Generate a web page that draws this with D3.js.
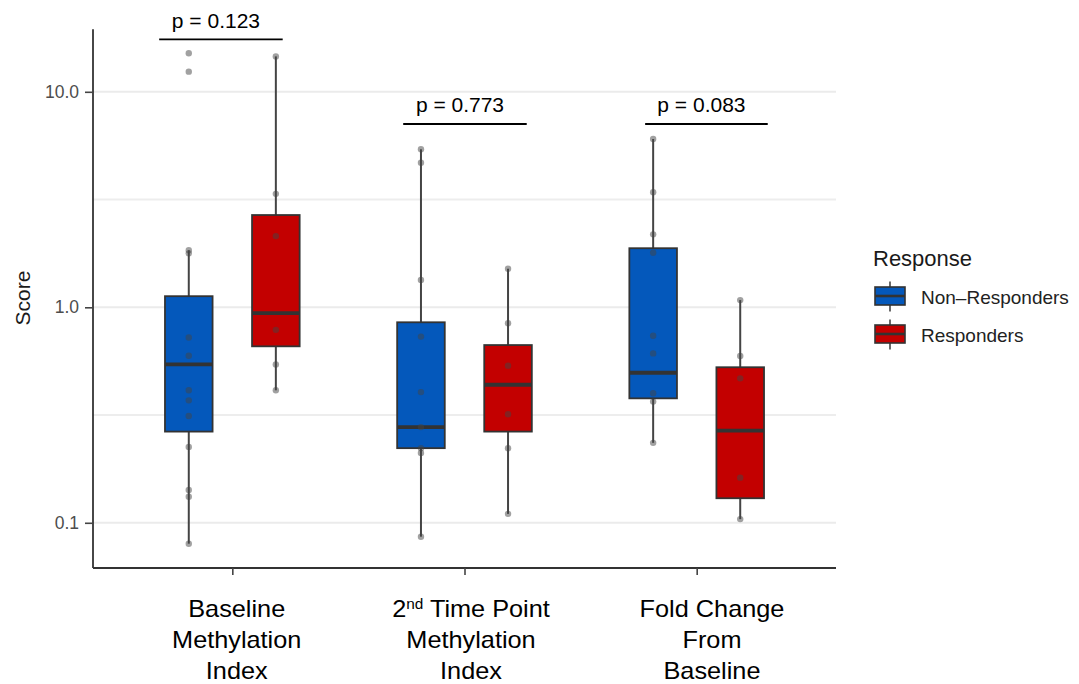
<!DOCTYPE html>
<html>
<head>
<meta charset="utf-8">
<script src="https://cdn.jsdelivr.net/npm/d3@7"></script>
<style>
  html, body { margin: 0; padding: 0; background: #ffffff; }
  svg { display: block; font-family: "Liberation Sans", Arial, Helvetica, sans-serif; }
</style>
</head>
<body>
<svg id="chart" width="1079" height="684"></svg>
<script>
// ---------------- DATA ----------------
const categories = ["Baseline Methylation Index", "2nd Time Point Methylation Index", "Fold Change From Baseline"];
const groups = ["Non-Responders", "Responders"];

// box statistics
const nonRespLowWhisker  = [0.080, 0.0862, 0.235];
const nonRespQ1          = [0.265, 0.222, 0.378];
const nonRespMedian      = [0.543, 0.278, 0.497];
const nonRespQ3          = [1.126, 0.852, 1.88];
const nonRespHighWhisker = [1.84, 5.41, 6.04];

const respLowWhisker  = [0.412, 0.110, 0.104];
const respQ1          = [0.659, 0.265, 0.130];
const respMedian      = [0.94, 0.437, 0.268];
const respQ3          = [2.68, 0.668, 0.527];
const respHighWhisker = [14.6, 1.51, 1.08];

// individual points
const nonRespPoints = [
  [15.1, 12.4, 1.84, 1.78, 0.724, 0.596, 0.412, 0.37, 0.313, 0.225, 0.142, 0.132, 0.080],
  [5.41, 4.69, 1.34, 0.731, 0.404, 0.278, 0.222, 0.211, 0.0862],
  [6.04, 3.42, 2.18, 1.79, 0.738, 0.611, 0.399, 0.365, 0.235]
];
const respPoints = [
  [14.6, 3.36, 2.14, 0.786, 0.543, 0.412],
  [1.51, 0.843, 0.536, 0.319, 0.222, 0.110],
  [1.08, 0.594, 0.468, 0.162, 0.104]
];

// significance annotations
const pLabels = ["p = 0.123", "p = 0.773", "p = 0.083"];
const bracketY = [17.5, 7.09, 7.09];
const bracketLeft = [-0.315, -0.264, -0.222];   // in category-step units
const bracketRight = [0.217, 0.268, 0.306];

const yMajorTicks = [0.1, 1, 10];
const yMinorTicks = [Math.pow(10, -0.5), Math.pow(10, 0.5)];
const yTickLabels = ["0.1", "1.0", "10.0"];

// ---------------- STYLE / LAYOUT ----------------
const colors = { "Non-Responders": "#0458bb", "Responders": "#c30000" };
const panel = { left: 93, right: 836, top: 29.3, bottom: 568 };
const dodge = 0.1875, boxW = 0.205;
const labelShift = [4.4, 6.5, 15.3];

const svg = d3.select("#chart");

const x = d3.scalePoint().domain(categories).range([panel.left, panel.right]).padding(0.6);
const step = x.step();
const y = d3.scaleLog().domain([0.06169, 19.5]).range([panel.bottom, panel.top]);

// gridlines
const grid = svg.append("g");
grid.selectAll("line.major").data(yMajorTicks).join("line")
  .attr("x1", panel.left).attr("x2", panel.right)
  .attr("y1", d => y(d)).attr("y2", d => y(d))
  .attr("stroke", "#ebebeb").attr("stroke-width", 2);
grid.selectAll("line.minor").data(yMinorTicks).join("line")
  .attr("x1", panel.left).attr("x2", panel.right)
  .attr("y1", d => y(d)).attr("y2", d => y(d))
  .attr("stroke", "#ededed").attr("stroke-width", 2);

// build box records
const boxes = [];
categories.forEach((c, i) => {
  boxes.push({ cat: c, grp: "Non-Responders", off: -dodge, lo: nonRespLowWhisker[i], q1: nonRespQ1[i], med: nonRespMedian[i], q3: nonRespQ3[i], hi: nonRespHighWhisker[i], pts: nonRespPoints[i] });
  boxes.push({ cat: c, grp: "Responders", off: dodge, lo: respLowWhisker[i], q1: respQ1[i], med: respMedian[i], q3: respQ3[i], hi: respHighWhisker[i], pts: respPoints[i] });
});
const cx = d => x(d.cat) + d.off * step;

const bg = svg.append("g");
// whiskers
bg.selectAll("line.wu").data(boxes).join("line")
  .attr("x1", cx).attr("x2", cx)
  .attr("y1", d => y(d.q3)).attr("y2", d => y(d.hi))
  .attr("stroke", "#444").attr("stroke-width", 2);
bg.selectAll("line.wl").data(boxes).join("line")
  .attr("x1", cx).attr("x2", cx)
  .attr("y1", d => y(d.q1)).attr("y2", d => y(d.lo))
  .attr("stroke", "#444").attr("stroke-width", 2);
// boxes
bg.selectAll("rect.box").data(boxes).join("rect")
  .attr("x", d => cx(d) - boxW * step / 2)
  .attr("width", boxW * step)
  .attr("y", d => y(d.q3))
  .attr("height", d => y(d.q1) - y(d.q3))
  .attr("fill", d => colors[d.grp])
  .attr("stroke", "#333").attr("stroke-width", 1.8);
// medians
bg.selectAll("line.med").data(boxes).join("line")
  .attr("x1", d => cx(d) - boxW * step / 2).attr("x2", d => cx(d) + boxW * step / 2)
  .attr("y1", d => y(d.med)).attr("y2", d => y(d.med))
  .attr("stroke", "#333").attr("stroke-width", 3.8);
// points
const pts = [];
boxes.forEach(b => b.pts.forEach(v => pts.push({ b, v })));
bg.selectAll("circle.pt").data(pts).join("circle")
  .attr("cx", d => cx(d.b)).attr("cy", d => y(d.v)).attr("r", 3.2)
  .attr("fill", "#444").attr("fill-opacity", 0.5);

// axes
const axG = svg.append("g");
axG.append("line").attr("x1", panel.left).attr("x2", panel.left).attr("y1", panel.top).attr("y2", panel.bottom)
  .attr("stroke", "#333").attr("stroke-width", 1.8);
axG.append("line").attr("x1", panel.left).attr("x2", panel.right).attr("y1", panel.bottom).attr("y2", panel.bottom)
  .attr("stroke", "#333").attr("stroke-width", 1.8);

const yAxis = svg.append("g").attr("transform", `translate(${panel.left},0)`)
  .call(d3.axisLeft(y).tickValues(yMajorTicks).tickSize(8).tickPadding(6)
    .tickFormat((d, i) => yTickLabels[i]));
yAxis.select(".domain").remove();
yAxis.selectAll(".tick line").attr("stroke", "#444").attr("stroke-width", 1.6);
yAxis.selectAll(".tick text").attr("fill", "#4d4d4d").style("font-size", "17.5px")
  .style("font-family", "'Liberation Sans', Arial, sans-serif");

const xAxis = svg.append("g").attr("transform", `translate(0,${panel.bottom})`)
  .call(d3.axisBottom(x).tickSize(7).tickFormat(""));
xAxis.select(".domain").remove();
xAxis.selectAll(".tick line").attr("stroke", "#444").attr("stroke-width", 1.6);

// x labels (multi-line)
const xLabelLines = [
  [["Baseline"], ["Methylation"], ["Index"]],
  [["2", "nd", " Time Point"], ["Methylation"], ["Index"]],
  [["Fold Change"], ["From"], ["Baseline"]]
];
const lineBase = [617, 648, 679];
categories.forEach((c, i) => {
  const g = svg.append("g").attr("transform", `translate(${x(c) + labelShift[i]},0) scale(1.1,1)`);
  xLabelLines[i].forEach((parts, j) => {
    const t = g.append("text").attr("x", 0).attr("y", lineBase[j])
      .attr("text-anchor", "middle").attr("fill", "#000").style("font-size", "23px");
    if (parts.length === 3) {
      t.append("tspan").text(parts[0]);
      t.append("tspan").text(parts[1]).attr("dy", -8).style("font-size", "14px");
      t.append("tspan").text(parts[2]).attr("dy", 8);
    } else {
      t.text(parts[0]);
    }
  });
});

// y title
svg.append("text").attr("transform", "translate(30,298) rotate(-90)")
  .attr("text-anchor", "middle").attr("fill", "#1a1a1a").style("font-size", "21px").text("Score");

// significance brackets
const br = svg.append("g");
categories.forEach((c, i) => {
  const x1 = x(c) + bracketLeft[i] * step, x2 = x(c) + bracketRight[i] * step;
  const yy = y(bracketY[i]);
  br.append("line").attr("x1", x1).attr("x2", x2).attr("y1", yy).attr("y2", yy)
    .attr("stroke", "#000").attr("stroke-width", 1.8);
  br.append("text").attr("x", (x1 + x2) / 2 - 5).attr("y", yy - 11.5)
    .attr("text-anchor", "middle").attr("fill", "#000").style("font-size", "21px").text(pLabels[i]);
});

// legend
const lg = svg.append("g");
lg.append("text").attr("x", 873).attr("y", 266).attr("fill", "#1a1a1a").style("font-size", "22px").text("Response");
groups.forEach((gname, i) => {
  const cy = 296 + i * 38;
  const kx = 890;
  lg.append("line").attr("x1", kx).attr("x2", kx).attr("y1", cy - 14.5).attr("y2", cy + 15.5)
    .attr("stroke", "#444").attr("stroke-width", 1.6);
  lg.append("rect").attr("x", kx - 15).attr("y", cy - 9).attr("width", 30).attr("height", 18)
    .attr("fill", colors[gname]).attr("stroke", "#333").attr("stroke-width", 1.6);
  lg.append("line").attr("x1", kx - 15).attr("x2", kx + 15).attr("y1", cy).attr("y2", cy)
    .attr("stroke", "#333").attr("stroke-width", 2.6);
  lg.append("text").attr("x", 921).attr("y", cy + 7.5).attr("fill", "#222").style("font-size", "19px")
    .text(gname === "Non-Responders" ? "Non\u2013Responders" : gname);
});
</script>
</body>
</html>
